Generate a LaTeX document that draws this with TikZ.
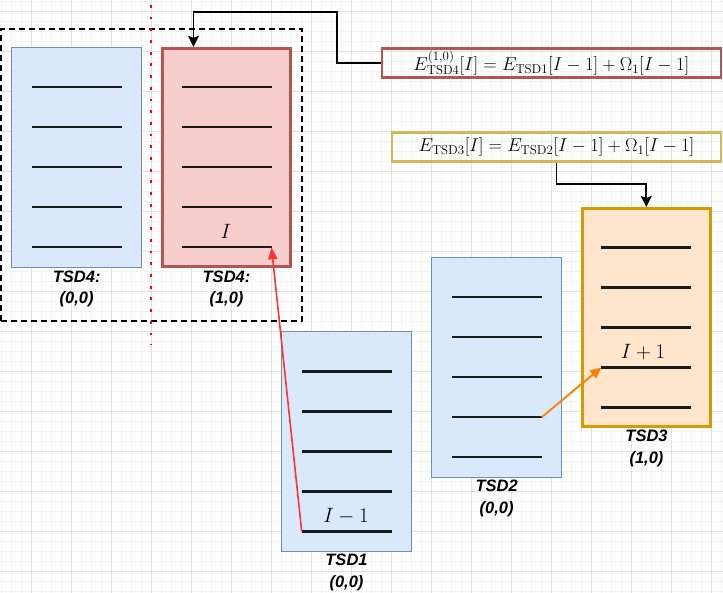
\documentclass[tikz,border=0pt]{standalone}
\usepackage{fontspec}
\setsansfont{Liberation Sans}
\usetikzlibrary{arrows.meta}
\definecolor{bfill}{HTML}{DAE8FC}
\definecolor{bdraw}{HTML}{6C8EBF}
\definecolor{rfill}{HTML}{F8CECC}
\definecolor{rdraw}{HTML}{B85450}
\definecolor{ofill}{HTML}{FFE6CC}
\definecolor{odraw}{HTML}{D79B00}
\definecolor{ydraw}{HTML}{D6B656}
\definecolor{gridminor}{HTML}{F2F2F2}
\definecolor{gridmajor}{HTML}{E0E0E0}
\definecolor{linecol}{HTML}{1A1A1A}
\definecolor{redarrow}{HTML}{FF3333}
\definecolor{orangearrow}{HTML}{FF8000}
\newcommand{\formsc}[1]{\scalebox{1.076}{$#1$}}
\begin{document}
\begin{tikzpicture}[x=1pt,y=-1pt,
  tsdbox/.style={rectangle,inner sep=0pt,minimum width=130pt,minimum height=220pt},
  bluebox/.style={tsdbox,fill=bfill,draw=bdraw,line width=1pt},
  redbox/.style={tsdbox,fill=rfill,draw=rdraw,line width=3pt,minimum width=128pt,minimum height=218pt},
  orangebox/.style={tsdbox,fill=ofill,draw=odraw,line width=3pt,minimum width=128pt,minimum height=218pt},
  tline/.style={draw=linecol,line width=2.2pt},
  tsdlabel/.style={align=center,inner sep=0pt,font=\sffamily\bfseries\itshape\fontsize{16.5}{21.5}\selectfont},
  mlabel/.style={inner sep=0pt,font=\fontsize{20.74}{24}\selectfont},
  formbox/.style={rectangle,inner sep=0pt,line width=2.2pt,font=\fontsize{17.28}{22}\selectfont},
  conn/.style={draw=black,line width=1.7pt,-{Stealth[length=11pt,width=11pt,inset=2pt]}},
]
\useasboundingbox (0,0) rectangle (723,593);
\fill[white] (0,0) rectangle (723,593);
% grid
\foreach \gx in {1.5,11.5,...,721.5} \draw[gridminor,line width=0.8pt] (\gx,0) -- (\gx,593);
\foreach \gy in {1.7,11.7,...,591.7} \draw[gridminor,line width=0.8pt] (0,\gy) -- (723,\gy);
\foreach \gx in {31.5,71.5,...,711.5} \draw[gridmajor,line width=1pt] (\gx,0) -- (\gx,593);
\foreach \gy in {11.7,51.7,...,591.7} \draw[gridmajor,line width=1pt] (0,\gy) -- (723,\gy);

% dashed group box
\node[draw=black,line width=2pt,dash pattern=on 6pt off 4pt,inner sep=0pt,minimum width=301pt,minimum height=292pt] (grp) at (151.5,175.5) {};
% red dotted divider
\coordinate (dtop) at (151,5);
\coordinate (dbot) at (151,345);
\draw[red,line width=2.8pt,dash pattern=on 2.8pt off 8.9pt] (dtop) -- (dbot);

% boxes
\node[bluebox] (t40) at (76.7,157.3) {};
\node[redbox] (t41) at (226.5,157.3) {};
\node[bluebox] (t1) at (346.7,441.5) {};
\node[bluebox] (t2) at (496.7,367.2) {};
\node[orangebox] (t3) at (646.3,317.5) {};

\foreach \b in {t40,t41,t1,t2,t3}{
  \foreach \dy in {-70,-30,10,50,90}{
    \draw[tline] ([shift={(-45,\dy)}]\b.center) -- ([shift={(45,\dy)}]\b.center);
  }
}

% labels
\node[tsdlabel] (l40) at (76.7,289) {TSD4:\\(0,0)};
\node[tsdlabel] (l41) at (226.5,289) {TSD4:\\(1,0)};
\node[tsdlabel] (l1) at (346.5,572.5) {TSD1\\(0,0)};
\node[tsdlabel] (l2) at (496.7,498.3) {TSD2\\(0,0)};
\node[tsdlabel] (l3) at (646.5,448.5) {TSD3\\(1,0)};

\node[mlabel] (mI) at (226,231) {$I$};
\node[mlabel] (mIm) at (346,516) {$I-1$};
\node[mlabel] (mIp) at (643,351.7) {$I+1$};

% formula boxes
\node[formbox,draw=rdraw,minimum width=339pt,minimum height=29pt] (f1) at (551.3,63) {\formsc{E^{(1,0)}_{\mathrm{TSD4}}[I]=E_{\mathrm{TSD1}}[I-1]+\Omega_1[I-1]}};
\node[formbox,draw=ydraw,minimum width=329pt,minimum height=29pt] (f2) at (556.5,147) {\formsc{E_{\mathrm{TSD3}}[I]=E_{\mathrm{TSD2}}[I-1]+\Omega_1[I-1]}};

% connectors
\coordinate (k1) at (337,11.7);
\coordinate (k1in) at ([xshift=-33pt]t41.north);
\draw[conn] (f1.west) -| (k1) -| (k1in);
\coordinate (k2) at (556.5,184);
\draw[conn] (f2.south) -- (k2) -| (t3.north);

\coordinate (r1s) at ([shift={(-45,90)}]t1.center);
\coordinate (r1e) at ([shift={(45,90)}]t41.center);
\draw[redarrow,line width=1.6pt,-{Triangle[length=12pt,width=9pt]}] (r1s) -- (r1e);
\coordinate (o1s) at ([shift={(45,50)}]t2.center);
\coordinate (o1e) at ([shift={(-45,50)}]t3.center);
\draw[orangearrow,line width=1.9pt,-{Triangle[length=11pt,width=10pt]}] (o1s) -- (o1e);
\end{tikzpicture}
\end{document}
